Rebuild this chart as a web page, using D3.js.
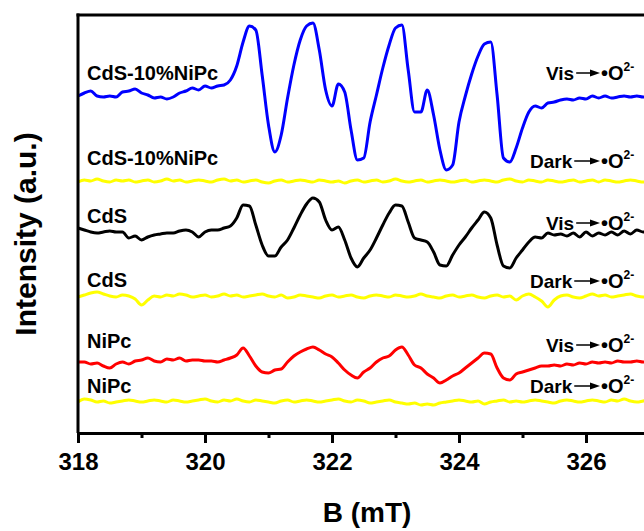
<!DOCTYPE html>
<html>
<head>
<meta charset="utf-8">
<script src="https://cdn.jsdelivr.net/npm/d3@7"></script>
<style>
  body { margin: 0; background: #fff; }
  svg { display: block; font-family: "Liberation Sans", Arial, Helvetica, sans-serif; font-weight: bold; }
</style>
</head>
<body>
<div id="chart"></div>
<script>
// magnetic field grid (mT)
const field = [
  318.0, 318.1, 318.2, 318.3, 318.4, 318.5, 318.6, 318.7, 318.8, 318.9,
  319.0, 319.1, 319.2, 319.3, 319.4, 319.5, 319.6, 319.7, 319.8, 319.9,
  320.0, 320.1, 320.2, 320.3, 320.4, 320.5, 320.6, 320.7, 320.8, 320.9,
  321.0, 321.1, 321.2, 321.3, 321.4, 321.5, 321.6, 321.7, 321.8, 321.9,
  322.0, 322.1, 322.2, 322.3, 322.4, 322.5, 322.6, 322.7, 322.8, 322.9,
  323.0, 323.1, 323.2, 323.3, 323.4, 323.5, 323.6, 323.7, 323.8, 323.9,
  324.0, 324.1, 324.2, 324.3, 324.4, 324.5, 324.6, 324.7, 324.8, 324.9,
  325.0, 325.1, 325.2, 325.3, 325.4, 325.5, 325.6, 325.7, 325.8, 325.9,
  326.0, 326.1, 326.2, 326.3, 326.4, 326.5, 326.6, 326.7, 326.8, 326.9,
  327.0
];

const majorTicks = [318, 320, 322, 324, 326];
const minorTicks = [319, 321, 323, 325, 327];

// spectra, relative to their own baseline (a.u.)
const cdsNipcVis = [
  -1, 2, 4, -1, -2, -1, -2, 3, 4, 6,
  2, 0, -3, -2, -4, -2, 2, 4, 7, 5,
  9, 7, 9, 10, 15, 29, 53, 69, 65, 20,
  -30, -57, -40, -3, 30, 55, 69, 72, 45, 5,
  -11, 11, 3, -35, -65, -63, -27, 0, 27, 50,
  67, 70, 25, -17, -17, 5, -20, -55, -75, -70,
  -27, -1, 21, 39, 51, 53, 0, -63, -67, -53,
  -33, -17, -11, -13, -8, -7, -5, -4, -5, -3,
  -4, -1, -3, -1, -3, -2, -1, -2, -1, -2,
  -1
];
const cdsNipcDark = [
  0, 2, 1, 3, 1, 0, 2, 1, 2, 0,
  1, 2, 0, 1, 3, 1, 2, 0, 1, 2,
  1, 0, 2, 3, 1, 2, 0, 1, 2, 0,
  -1, 1, 2, 0, 1, 2, 1, 0, 2, 1,
  0, 1, -1, 1, 2, 0, 1, 2, 0, 1,
  3, 1, 0, 1, 2, 0, 1, 2, 1, 0,
  1, 2, 0, 1, 2, 1, 0, 2, 3, 1,
  0, 2, 1, 0, 2, 1, 0, 1, 2, 0,
  1, 2, 0, 2, 1, 0, 1, 2, 1, 0,
  1
];
const cdsVis = [
  2, 0, -2, -3, -2, -1, -2, -2, -8, -6,
  -10, -7, -5, -4, -3, -3, -1, 0, -2, -7,
  -2, 0, 0, 2, 4, 12, 25, 24, 5, -15,
  -26, -26, -17, -10, 2, 15, 26, 32, 28, 10,
  0, 3, -10, -28, -37, -28, -20, -8, 5, 17,
  25, 24, 8, -8, -10, -12, -22, -35, -36, -25,
  -15, -7, 2, 10, 18, 12, -15, -36, -38, -28,
  -20, -12, -7, -8, -3, -5, -4, -6, -3, -7,
  -2, -6, -3, -5, -2, -5, -1, -4, 0, -2,
  -1
];
const cdsDark = [
  0, 2, 4, 5, 3, 1, 0, 2, 1, -2,
  -8, -3, 1, 0, 2, 1, 3, 2, 0, 1,
  2, 0, 1, 3, 1, 2, 0, 1, 2, 3,
  1, 0, 2, -1, 0, 2, 1, 0, -1, 1,
  2, 0, 1, 2, 0, -1, 1, 2, 1, 0,
  2, 1, 0, 1, 3, 1, 0, -1, 1, 2,
  0, 1, 2, 0, -1, 1, 2, 0, 1, -3,
  1, 3, 0, -4, -10, -3, 1, 2, 0, -1,
  1, 3, 1, 2, 0, 1, 2, 3, 1, 0,
  1
];
const nipcVis = [
  0, 0, -2, -1, -4, -6, -2, 0, -2, 1,
  2, 4, 1, 0, 3, 2, 4, 1, 2, 2,
  1, 1, 0, 2, 4, 7, 14, 6, -4, -10,
  -11, -8, -7, 0, 6, 10, 13, 15, 12, 8,
  5, -1, -8, -13, -16, -10, -6, 0, 4, 6,
  12, 15, 7, -3, -6, -12, -16, -21, -18, -14,
  -11, -6, -1, 4, 9, 8, -6, -16, -18, -12,
  -10, -8, -6, -4, -4, -3, -4, -2, -3, -1,
  -2, 0, -1, 0, -1, 1, 0, 0, 1, 0,
  0
];
const nipcDark = [
  0, 3, 2, 0, 1, -1, 0, 1, 2, 1,
  0, 1, 2, 1, 0, 2, 1, 0, 1, 2,
  3, 1, 0, 2, 1, 3, 1, 0, 2, 1,
  0, -1, 1, 2, 0, 1, 2, 1, 0, 1,
  2, 3, 1, 0, 2, 1, -1, 0, 1, 2,
  0, -1, -2, -1, -3, -2, -3, -1, 0, 1,
  2, 1, 0, 1, -2, 0, 1, 2, 0, 1,
  0, 1, 2, 1, 0, -1, 1, 2, 1, 0,
  1, 2, 1, 0, 2, 1, 3, 1, 0, 1,
  2
];

const sampleNames = ["CdS-10%NiPc", "CdS-10%NiPc", "CdS", "CdS", "NiPc", "NiPc"];
const conditions = ["Vis", "Dark", "Vis", "Dark", "Vis", "Dark"];
const offsets = [338, 251, 203, 136, 71, 31];   // vertical stacking offset (a.u.)
const spectra = [cdsNipcVis, cdsNipcDark, cdsVis, cdsDark, nipcVis, nipcDark];
const colors = ["#0000ff", "#ffff00", "#000000", "#ffff00", "#ff0000", "#ffff00"];

// layout
const W = 644, H = 531;
const mLeft = 78, mTop = 15, mBottom = 433;
const nameY = [80, 165, 223, 287, 348, 393];
const condY = [80, 168, 230, 288, 352, 393];

const svg = d3.select("#chart").append("svg")
  .attr("width", W).attr("height", H);

const x = d3.scaleLinear().domain([318, 328]).range([mLeft, mLeft + 635]);
const y = d3.scaleLinear().domain([0, 418]).range([mBottom, mTop]);

// traces
const line = d3.line()
  .x(function (d) { return x(d[0]); })
  .y(function (d) { return y(d[1]); })
  .curve(d3.curveMonotoneX);

spectra.forEach(function (s, i) {
  const pts = s.map(function (v, j) { return [field[j], v + offsets[i]]; });
  svg.append("path")
    .attr("d", line(pts))
    .attr("fill", "none")
    .attr("stroke", colors[i])
    .attr("stroke-width", 3)
    .attr("stroke-linejoin", "round");
});

// frame: left and top
svg.append("line").attr("x1", mLeft).attr("x2", mLeft).attr("y1", mTop - 1.5).attr("y2", mBottom)
  .attr("stroke", "#000").attr("stroke-width", 3);
svg.append("line").attr("x1", mLeft - 1.5).attr("x2", W).attr("y1", mTop).attr("y2", mTop)
  .attr("stroke", "#000").attr("stroke-width", 3);

// x axis
const xAxis = svg.append("g").attr("transform", "translate(0," + mBottom + ")")
  .call(d3.axisBottom(x).tickValues(majorTicks).tickSize(10).tickSizeOuter(0).tickPadding(10)
    .tickFormat(d3.format("d")));
xAxis.select(".domain").attr("stroke-width", 3);
xAxis.selectAll(".tick line").attr("stroke-width", 3);
xAxis.selectAll(".tick text")
  .attr("font-size", 24).attr("font-weight", "bold")
  .attr("font-family", "'Liberation Sans', Arial, sans-serif").attr("fill", "#000");

const minor = svg.append("g").attr("transform", "translate(0," + mBottom + ")")
  .call(d3.axisBottom(x).tickValues(minorTicks).tickSize(5).tickSizeOuter(0).tickFormat(""));
minor.select(".domain").remove();
minor.selectAll(".tick line").attr("stroke-width", 3);

// axis titles
svg.append("text")
  .attr("x", 367).attr("y", 522)
  .attr("text-anchor", "middle")
  .attr("font-size", 28)
  .text("B (mT)");

svg.append("text")
  .attr("transform", "translate(36,234) rotate(-90)")
  .attr("text-anchor", "middle")
  .attr("font-size", 30)
  .text("Intensity (a.u.)");

// sample labels on the left
sampleNames.forEach(function (n, i) {
  svg.append("text").attr("x", 87).attr("y", nameY[i])
    .attr("font-size", 20).text(n);
});

// condition labels on the right: "Vis -> •O2-"
const wordX = { Vis: 546, Dark: 530 };
conditions.forEach(function (c, i) {
  const yb = condY[i];
  const t = svg.append("text").attr("x", wordX[c]).attr("y", yb)
    .attr("font-size", 19).text(c);
  const w = t.node().getComputedTextLength();
  const ax0 = wordX[c] + w + 2, tip = 600, ay = yb - 7;
  svg.append("line").attr("x1", ax0).attr("x2", tip - 6).attr("y1", ay).attr("y2", ay)
    .attr("stroke", "#000").attr("stroke-width", 1.5);
  svg.append("path")
    .attr("d", "M" + tip + "," + ay + " L" + (tip - 10) + "," + (ay - 3.5) + " L" + (tip - 10) + "," + (ay + 3.5) + " Z")
    .attr("fill", "#000");
  const o = svg.append("text").attr("x", 601).attr("y", yb).attr("font-size", 20);
  o.append("tspan").text("\u2022O");
  o.append("tspan").attr("dy", -9).attr("font-size", 12).text("2-");
});
</script>
</body>
</html>
